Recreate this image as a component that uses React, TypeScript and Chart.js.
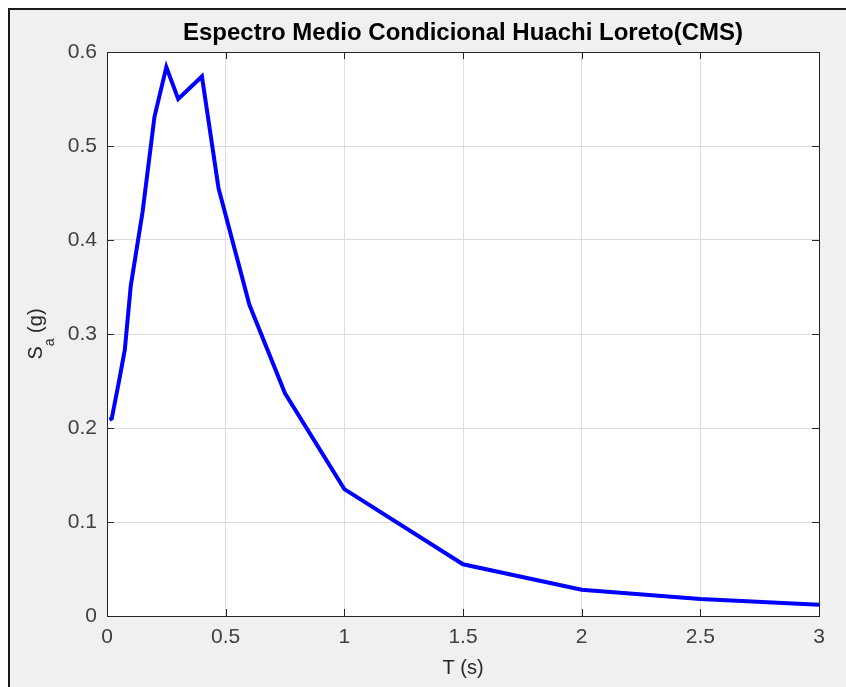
import React, { useEffect, useRef } from "react";
import { Chart, registerables } from "chart.js";

Chart.register(...registerables);

// ---- Data ----
const periods = [0.01, 0.02, 0.05, 0.075, 0.1, 0.15, 0.2, 0.25, 0.3, 0.4, 0.47, 0.6, 0.75, 1, 1.5, 2, 2.5, 3];
const saValues = [0.209, 0.21, 0.249, 0.283, 0.351, 0.43, 0.531, 0.584, 0.55, 0.574, 0.455, 0.331, 0.237, 0.135, 0.055, 0.028, 0.018, 0.012];

const xTickValues = [0, 0.5, 1, 1.5, 2, 2.5, 3];
const xTickLabels = ["0", "0.5", "1", "1.5", "2", "2.5", "3"];
const yTickValues = [0, 0.1, 0.2, 0.3, 0.4, 0.5, 0.6];
const yTickLabels = ["0", "0.1", "0.2", "0.3", "0.4", "0.5", "0.6"];

const titleText = "Espectro Medio Condicional Huachi Loreto(CMS)";
const xAxisTitle = "T (s)";
const yAxisMain = "S";
const yAxisSub = "a";
const yAxisRest = " (g)";

const W = 846;
const H = 687;
const FONT = "'Liberation Sans', Arial, Helvetica, sans-serif";
const TEXT = "#262626";

const decorPlugin = {
  id: "matlabDecor",
  beforeDraw(chart: any) {
    const { ctx, chartArea } = chart;
    ctx.save();
    ctx.fillStyle = "#ffffff";
    ctx.fillRect(0, 0, W, H);
    ctx.fillStyle = "#f0f0f0";
    ctx.fillRect(8, 8, W, H);
    ctx.fillStyle = "#1a1a1a";
    ctx.fillRect(8, 8, W, 2);
    ctx.fillRect(8, 8, 2, H);
    ctx.fillStyle = "#ffffff";
    ctx.fillRect(chartArea.left, chartArea.top, chartArea.right - chartArea.left, chartArea.bottom - chartArea.top);
    ctx.restore();
  },
  afterDraw(chart: any) {
    const { ctx, chartArea, scales } = chart;
    const { left, right, top, bottom } = chartArea;
    ctx.save();
    ctx.strokeStyle = "#262626";
    ctx.lineWidth = 1;
    ctx.strokeRect(Math.round(left) + 0.5, Math.round(top) + 0.5, Math.round(right - left), Math.round(bottom - top));
    const tl = 7;
    ctx.beginPath();
    xTickValues.forEach((v) => {
      const x = Math.round(scales.x.getPixelForValue(v)) + 0.5;
      ctx.moveTo(x, bottom);
      ctx.lineTo(x, bottom - tl);
      ctx.moveTo(x, top);
      ctx.lineTo(x, top + tl);
    });
    yTickValues.forEach((v) => {
      const y = Math.round(scales.y.getPixelForValue(v)) + 0.5;
      ctx.moveTo(left, y);
      ctx.lineTo(left + tl, y);
      ctx.moveTo(right, y);
      ctx.lineTo(right - tl, y);
    });
    ctx.stroke();

    // Title
    ctx.fillStyle = "#000000";
    ctx.font = `bold 24px ${FONT}`;
    ctx.textAlign = "center";
    ctx.textBaseline = "middle";
    ctx.fillText(titleText, (left + right) / 2, 33);

    // X axis title
    ctx.fillStyle = TEXT;
    ctx.font = `20px ${FONT}`;
    ctx.fillText(xAxisTitle, (left + right) / 2, 668);

    // Y axis title with subscript
    const mainFont = `20px ${FONT}`;
    const subFont = `14px ${FONT}`;
    ctx.font = mainFont;
    const wS = ctx.measureText(yAxisMain).width;
    const wRest = ctx.measureText(yAxisRest).width;
    ctx.font = subFont;
    const wSub = ctx.measureText(yAxisSub).width;
    const total = wS + wSub + wRest;
    ctx.translate(42, (top + bottom) / 2);
    ctx.rotate(-Math.PI / 2);
    ctx.textAlign = "left";
    ctx.textBaseline = "alphabetic";
    let x0 = -total / 2;
    ctx.font = mainFont;
    ctx.fillText(yAxisMain, x0, 0);
    x0 += wS;
    ctx.font = subFont;
    ctx.fillText(yAxisSub, x0, 12);
    x0 += wSub;
    ctx.font = mainFont;
    ctx.fillText(yAxisRest, x0, 0);
    ctx.restore();
  },
};

export default function App() {
  const canvasRef = useRef<HTMLCanvasElement | null>(null);

  useEffect(() => {
    if (!canvasRef.current) return;
    const chart = new Chart(canvasRef.current, {
      type: "line",
      data: {
        datasets: [
          {
            data: periods.map((t, i) => ({ x: t, y: saValues[i] })),
            borderColor: "#0000ff",
            borderWidth: 4,
            pointRadius: 0,
            fill: false,
            tension: 0,
            borderJoinStyle: "miter",
          },
        ],
      },
      options: {
        animation: false,
        responsive: false,
        devicePixelRatio: 1,
        layout: { padding: { left: 0, right: 27, top: 52, bottom: 0 } },
        plugins: {
          legend: { display: false },
          title: { display: false },
          tooltip: { enabled: false },
        },
        scales: {
          x: {
            type: "linear",
            min: 0,
            max: 3,
            afterFit: (s: any) => {
              s.height = 71;
            },
            afterBuildTicks: (s: any) => {
              s.ticks = xTickValues.map((v) => ({ value: v }));
            },
            ticks: {
              padding: 9,
              color: "#404040",
              font: { family: FONT, size: 21 },
              maxRotation: 0,
              callback: (v: any) => {
                const i = xTickValues.indexOf(Number(v));
                return i >= 0 ? xTickLabels[i] : "";
              },
            },
            grid: { color: "#dcdcdc", drawTicks: false, tickLength: 0 },
            border: { display: false },
          },
          y: {
            type: "linear",
            min: 0,
            max: 0.6,
            afterFit: (s: any) => {
              s.width = 107;
            },
            afterBuildTicks: (s: any) => {
              s.ticks = yTickValues.map((v) => ({ value: v }));
            },
            ticks: {
              padding: 10,
              color: "#404040",
              font: { family: FONT, size: 21 },
              callback: (v: any) => {
                const i = yTickValues.findIndex((t) => Math.abs(t - Number(v)) < 1e-9);
                return i >= 0 ? yTickLabels[i] : "";
              },
            },
            grid: { color: "#dcdcdc", drawTicks: false, tickLength: 0 },
            border: { display: false },
          },
        },
      },
      plugins: [decorPlugin],
    });
    return () => chart.destroy();
  }, []);

  return (
    <div style={{ position: "absolute", left: 0, top: 0, width: W, height: H }}>
      <canvas ref={canvasRef} width={W} height={H} style={{ width: W, height: H, display: "block" }} />
    </div>
  );
}
